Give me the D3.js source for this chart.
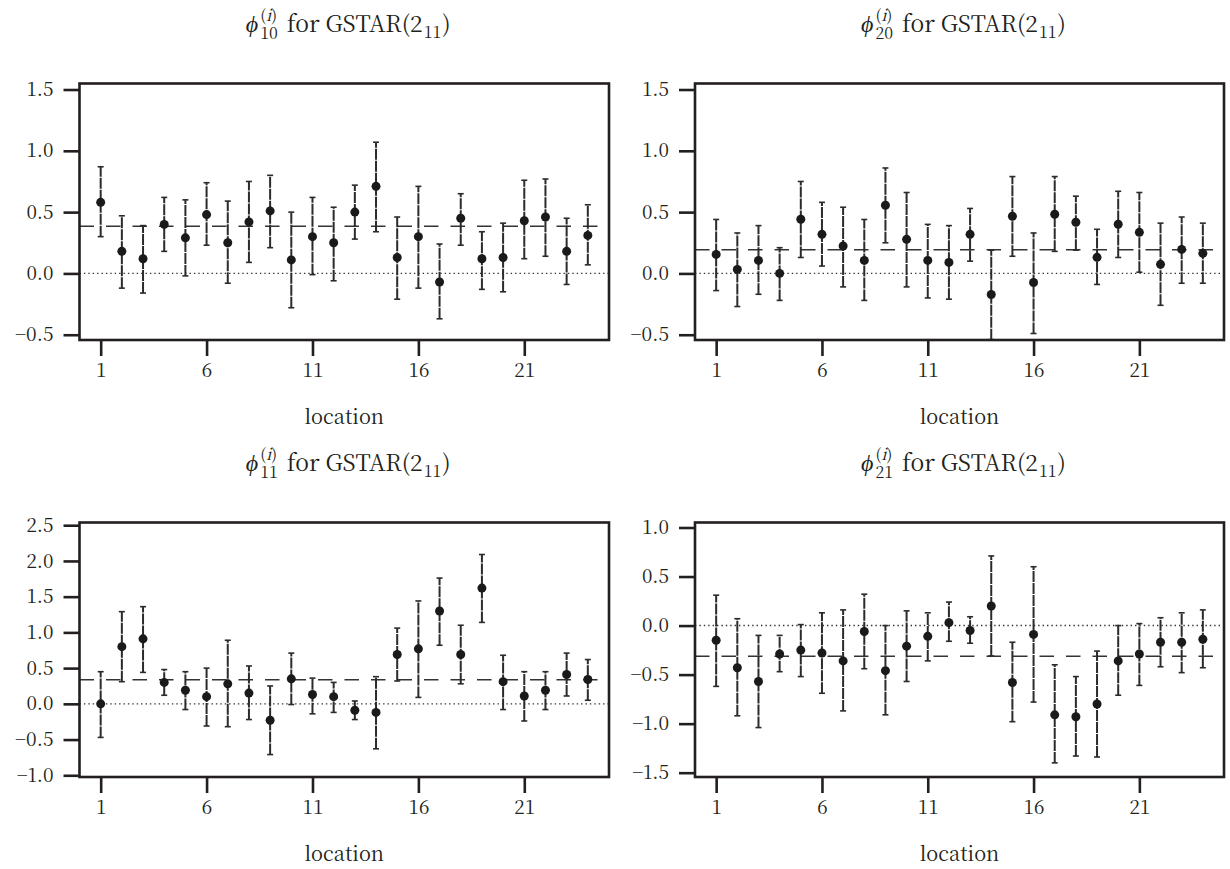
<!DOCTYPE html>
<html><head><meta charset="utf-8">
<script src="https://cdn.jsdelivr.net/npm/d3@7"></script>
<style>body{margin:0;background:#fff} svg{display:block}</style>
</head><body><svg id="c" width="1230" height="869"></svg>
<script>
// ---------------- data ----------------
const locations = [1,2,3,4,5,6,7,8,9,10,11,12,13,14,15,16,17,18,19,20,21,22,23,24];
const xTickValues = [1,6,11,16,21];
const xLabel = "location";

const est10 = [0.58,0.18,0.12,0.40,0.29,0.48,0.25,0.42,0.51,0.11,0.30,0.25,0.50,0.71,0.13,0.30,-0.07,0.45,0.12,0.13,0.43,0.46,0.18,0.31];
const hi10  = [0.87,0.47,0.39,0.62,0.60,0.74,0.59,0.75,0.80,0.50,0.62,0.54,0.72,1.07,0.46,0.71,0.24,0.65,0.34,0.41,0.76,0.77,0.45,0.56];
const lo10  = [0.30,-0.12,-0.16,0.18,-0.02,0.23,-0.08,0.09,0.21,-0.28,-0.01,-0.06,0.28,0.34,-0.21,-0.12,-0.37,0.23,-0.13,-0.15,0.12,0.14,-0.09,0.07];
const ref10 = 0.385;

const est20 = [0.155,0.033,0.106,0.0,0.442,0.319,0.224,0.106,0.556,0.278,0.106,0.09,0.319,-0.172,0.466,-0.074,0.483,0.417,0.131,0.401,0.335,0.074,0.196,0.164];
const hi20  = [0.44,0.33,0.39,0.21,0.75,0.58,0.54,0.44,0.86,0.66,0.40,0.39,0.53,0.19,0.79,0.33,0.79,0.63,0.36,0.67,0.66,0.41,0.46,0.41];
const lo20  = [-0.14,-0.27,-0.17,-0.22,0.13,0.06,-0.11,-0.22,0.25,-0.11,-0.20,-0.21,0.10,-0.54,0.14,-0.49,0.18,0.19,-0.09,0.13,0.01,-0.26,-0.08,-0.08];
const ref20 = 0.194;

const est11 = [0.0,0.80,0.91,0.30,0.19,0.10,0.28,0.15,-0.23,0.35,0.13,0.10,-0.09,-0.12,0.69,0.77,1.30,0.69,1.62,0.31,0.11,0.19,0.41,0.34];
const hi11  = [0.45,1.29,1.36,0.48,0.45,0.50,0.89,0.53,0.25,0.71,0.36,0.30,0.04,0.38,1.06,1.44,1.76,1.10,2.09,0.68,0.45,0.45,0.71,0.62];
const lo11  = [-0.47,0.31,0.44,0.12,-0.08,-0.31,-0.32,-0.22,-0.71,-0.01,-0.14,-0.12,-0.22,-0.63,0.32,0.09,0.82,0.28,1.14,-0.08,-0.24,-0.08,0.11,0.05];
const ref11 = 0.338;

const est21 = [-0.15,-0.43,-0.57,-0.29,-0.25,-0.28,-0.36,-0.06,-0.46,-0.21,-0.11,0.03,-0.05,0.20,-0.58,-0.09,-0.91,-0.93,-0.80,-0.36,-0.29,-0.17,-0.17,-0.14];
const hi21  = [0.31,0.07,-0.10,-0.10,0.01,0.13,0.16,0.32,0.00,0.15,0.13,0.24,0.09,0.71,-0.17,0.60,-0.40,-0.52,-0.26,0.00,0.02,0.08,0.13,0.16];
const lo21  = [-0.62,-0.92,-1.04,-0.47,-0.52,-0.69,-0.87,-0.44,-0.91,-0.57,-0.36,-0.16,-0.18,-0.31,-0.98,-0.78,-1.40,-1.33,-1.34,-0.71,-0.61,-0.42,-0.48,-0.43];
const ref21 = -0.314;

const yTicksTop = [-0.5,0.0,0.5,1.0,1.5];
const yTicks11  = [-1.0,-0.5,0.0,0.5,1.0,1.5,2.0,2.5];
const yTicks21  = [-1.5,-1.0,-0.5,0.0,0.5,1.0];

const titleSubs = ["10","20","11","21"];
const titleRest = "for GSTAR(2";
const titleModelSub = "11";

// ---------------- layout ----------------
const svg = d3.select("#c");
const FONT = "'Noto Serif CJK JP','Liberation Serif',serif";
const INK = "#231f20";
const cols = [[79.5, 609], [695, 1224]];
const rows = [[83.5, 340], [522.5, 777]];

const panels = [
  {est: est10, lo: lo10, hi: hi10, ref: ref10, ticks: yTicksTop, dom: [-0.543, 1.549], sub: titleSubs[0], c: 0, r: 0},
  {est: est20, lo: lo20, hi: hi20, ref: ref20, ticks: yTicksTop, dom: [-0.543, 1.549], sub: titleSubs[1], c: 1, r: 0},
  {est: est11, lo: lo11, hi: hi11, ref: ref11, ticks: yTicks11,  dom: [-1.024, 2.538], sub: titleSubs[2], c: 0, r: 1},
  {est: est21, lo: lo21, hi: hi21, ref: ref21, ticks: yTicks21,  dom: [-1.544, 1.051], sub: titleSubs[3], c: 1, r: 1}
];

function txt(sel, size, italic) {
  return sel.style("font-family", FONT).style("font-size", size + "px")
    .style("font-style", italic ? "italic" : "normal").attr("fill", INK);
}

// whole title is one <text>; sup/sub are stacked tspans
function drawTitle(g, cx, baseY, sub) {
  const main = 23, small = 16;
  const t = txt(g.append("text").attr("x", cx).attr("y", baseY).attr("text-anchor", "middle"), main, false);
  t.append("tspan").style("font-style", "italic").style("font-size", (main + 1) + "px").text("ϕ");
  const sup = t.append("tspan").attr("dx", 2).attr("dy", -11).style("font-size", small + "px");
  sup.append("tspan").text("(");
  sup.append("tspan").style("font-style", "italic").text("i");
  sup.append("tspan").text(")");
  const wSup = sup.node().getComputedTextLength();
  const sb = t.append("tspan").attr("dx", -wSup).attr("dy", 18).style("font-size", small + "px").text(sub);
  const wSub = sb.node().getComputedTextLength();
  const extra = Math.max(0, wSup - wSub);
  t.append("tspan").attr("dx", extra + 9).attr("dy", -7).text(titleRest);
  t.append("tspan").attr("dx", 1).attr("dy", 6).style("font-size", small + "px").text(titleModelSub);
  t.append("tspan").attr("dx", 1).attr("dy", -6).text(")");
}

panels.forEach(p => {
  const [x0, x1] = cols[p.c];
  const [y0, y1] = rows[p.r];
  const x = d3.scaleLinear().domain([0, 25]).range([x0, x1]);
  const y = d3.scaleLinear().domain(p.dom).range([y1, y0]);
  const g = svg.append("g");

  // reference lines
  g.append("line").attr("x1", x0).attr("x2", x1).attr("y1", y(0)).attr("y2", y(0))
    .attr("stroke", "#333").attr("stroke-width", 1.4).attr("stroke-dasharray", "1.4,3");
  g.append("line").attr("x1", x0).attr("x2", x1).attr("y1", y(p.ref)).attr("y2", y(p.ref))
    .attr("stroke", "#333").attr("stroke-width", 1.5).attr("stroke-dasharray", "14.5,12");

  // error bars
  const eb = g.append("g").attr("stroke", "#2b2b2b");
  locations.forEach((loc, i) => {
    const cx = x(loc);
    eb.append("line").attr("x1", cx).attr("x2", cx).attr("y1", y(p.lo[i])).attr("y2", y(p.hi[i]))
      .attr("stroke-width", 2).attr("stroke-dasharray", "11,1");
    eb.append("line").attr("x1", cx - 3).attr("x2", cx + 3).attr("y1", y(p.lo[i])).attr("y2", y(p.lo[i]))
      .attr("stroke-width", 1.6);
    eb.append("line").attr("x1", cx - 3).attr("x2", cx + 3).attr("y1", y(p.hi[i])).attr("y2", y(p.hi[i]))
      .attr("stroke-width", 1.6);
  });
  g.append("g").selectAll("circle").data(locations).join("circle")
    .attr("cx", d => x(d)).attr("cy", (d, i) => y(p.est[i])).attr("r", 4.5).attr("fill", "#1a1a1a");

  // frame
  g.append("rect").attr("x", x0).attr("y", y0).attr("width", x1 - x0).attr("height", y1 - y0)
    .attr("fill", "none").attr("stroke", INK).attr("stroke-width", 2.6);

  // axes
  const ya = g.append("g").attr("transform", `translate(${x0},0)`)
    .call(d3.axisLeft(y).tickValues(p.ticks).tickSize(16).tickPadding(10).tickFormat(d3.format(".1f")));
  const xa = g.append("g").attr("transform", `translate(0,${y1})`)
    .call(d3.axisBottom(x).tickValues(xTickValues).tickSize(16).tickPadding(8).tickFormat(d3.format("d")));
  [ya, xa].forEach(a => {
    a.attr("font-family", null).attr("font-size", null);
    a.select(".domain").remove();
    a.selectAll(".tick line").attr("stroke", INK).attr("stroke-width", 2.6);
    txt(a.selectAll(".tick text"), 19, false);
  });

  txt(g.append("text").attr("x", (x0 + x1) / 2).attr("y", y1 + 84).attr("text-anchor", "middle"), 20, false)
    .text(xLabel);

  drawTitle(g, (x0 + x1) / 2 + 4, y0 - 52, p.sub);
});
</script></body></html>
